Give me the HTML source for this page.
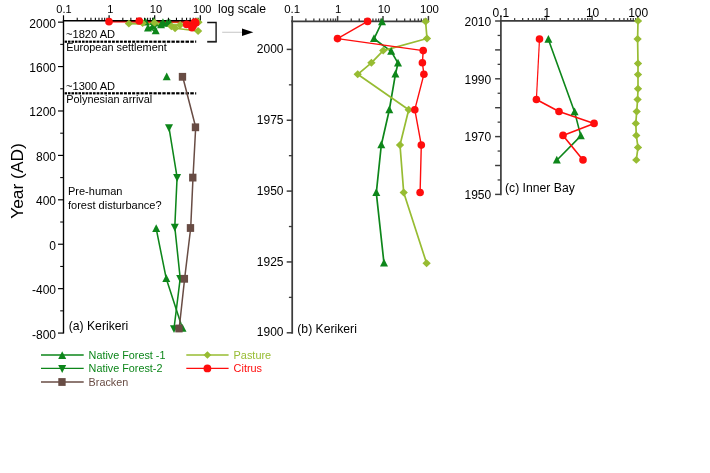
<!DOCTYPE html>
<html><head><meta charset="utf-8"><title>Figure</title>
<style>
html,body{margin:0;padding:0;background:#fff;}
svg{display:block;font-family:"Liberation Sans",sans-serif;}
</style></head><body>
<svg width="710" height="473" viewBox="0 0 710 473">
<rect width="710" height="473" fill="#fff"/>
<line x1="63.50" y1="20.70" x2="63.50" y2="15.30" stroke="#000" stroke-width="1.19" />
<line x1="77.23" y1="20.70" x2="77.23" y2="17.70" stroke="#000" stroke-width="1.0499999999999998" />
<line x1="85.26" y1="20.70" x2="85.26" y2="17.70" stroke="#000" stroke-width="1.0499999999999998" />
<line x1="90.95" y1="20.70" x2="90.95" y2="17.70" stroke="#000" stroke-width="1.0499999999999998" />
<line x1="95.37" y1="20.70" x2="95.37" y2="17.70" stroke="#000" stroke-width="1.0499999999999998" />
<line x1="98.98" y1="20.70" x2="98.98" y2="17.70" stroke="#000" stroke-width="1.0499999999999998" />
<line x1="102.04" y1="20.70" x2="102.04" y2="17.70" stroke="#000" stroke-width="1.0499999999999998" />
<line x1="104.68" y1="20.70" x2="104.68" y2="17.70" stroke="#000" stroke-width="1.0499999999999998" />
<line x1="107.01" y1="20.70" x2="107.01" y2="17.70" stroke="#000" stroke-width="1.0499999999999998" />
<line x1="109.10" y1="20.70" x2="109.10" y2="15.30" stroke="#000" stroke-width="1.19" />
<line x1="122.83" y1="20.70" x2="122.83" y2="17.70" stroke="#000" stroke-width="1.0499999999999998" />
<line x1="130.86" y1="20.70" x2="130.86" y2="17.70" stroke="#000" stroke-width="1.0499999999999998" />
<line x1="136.55" y1="20.70" x2="136.55" y2="17.70" stroke="#000" stroke-width="1.0499999999999998" />
<line x1="140.97" y1="20.70" x2="140.97" y2="17.70" stroke="#000" stroke-width="1.0499999999999998" />
<line x1="144.58" y1="20.70" x2="144.58" y2="17.70" stroke="#000" stroke-width="1.0499999999999998" />
<line x1="147.64" y1="20.70" x2="147.64" y2="17.70" stroke="#000" stroke-width="1.0499999999999998" />
<line x1="150.28" y1="20.70" x2="150.28" y2="17.70" stroke="#000" stroke-width="1.0499999999999998" />
<line x1="152.61" y1="20.70" x2="152.61" y2="17.70" stroke="#000" stroke-width="1.0499999999999998" />
<line x1="154.70" y1="20.70" x2="154.70" y2="15.30" stroke="#000" stroke-width="1.19" />
<line x1="168.43" y1="20.70" x2="168.43" y2="17.70" stroke="#000" stroke-width="1.0499999999999998" />
<line x1="176.46" y1="20.70" x2="176.46" y2="17.70" stroke="#000" stroke-width="1.0499999999999998" />
<line x1="182.15" y1="20.70" x2="182.15" y2="17.70" stroke="#000" stroke-width="1.0499999999999998" />
<line x1="186.57" y1="20.70" x2="186.57" y2="17.70" stroke="#000" stroke-width="1.0499999999999998" />
<line x1="190.18" y1="20.70" x2="190.18" y2="17.70" stroke="#000" stroke-width="1.0499999999999998" />
<line x1="193.24" y1="20.70" x2="193.24" y2="17.70" stroke="#000" stroke-width="1.0499999999999998" />
<line x1="195.88" y1="20.70" x2="195.88" y2="17.70" stroke="#000" stroke-width="1.0499999999999998" />
<line x1="198.21" y1="20.70" x2="198.21" y2="17.70" stroke="#000" stroke-width="1.0499999999999998" />
<line x1="200.30" y1="20.70" x2="200.30" y2="15.30" stroke="#000" stroke-width="1.19" />
<text x="64.00" y="13.10" font-size="11" text-anchor="middle" fill="#000" >0.1</text>
<text x="110.30" y="13.10" font-size="11" text-anchor="middle" fill="#000" >1</text>
<text x="155.90" y="13.10" font-size="11" text-anchor="middle" fill="#000" >10</text>
<text x="202.30" y="13.10" font-size="11" text-anchor="middle" fill="#000" >100</text>
<line x1="63.50" y1="20.01" x2="63.50" y2="333.59" stroke="#000" stroke-width="1.38" />
<line x1="58.00" y1="22.15" x2="63.50" y2="22.15" stroke="#000" stroke-width="1.1729999999999998" />
<text x="56.00" y="27.60" font-size="12" text-anchor="end" fill="#000" >2000</text>
<line x1="58.00" y1="66.57" x2="63.50" y2="66.57" stroke="#000" stroke-width="1.1729999999999998" />
<text x="56.00" y="72.02" font-size="12" text-anchor="end" fill="#000" >1600</text>
<line x1="58.00" y1="110.98" x2="63.50" y2="110.98" stroke="#000" stroke-width="1.1729999999999998" />
<text x="56.00" y="116.43" font-size="12" text-anchor="end" fill="#000" >1200</text>
<line x1="58.00" y1="155.40" x2="63.50" y2="155.40" stroke="#000" stroke-width="1.1729999999999998" />
<text x="56.00" y="160.85" font-size="12" text-anchor="end" fill="#000" >800</text>
<line x1="58.00" y1="199.81" x2="63.50" y2="199.81" stroke="#000" stroke-width="1.1729999999999998" />
<text x="56.00" y="205.26" font-size="12" text-anchor="end" fill="#000" >400</text>
<line x1="58.00" y1="244.23" x2="63.50" y2="244.23" stroke="#000" stroke-width="1.1729999999999998" />
<text x="56.00" y="249.68" font-size="12" text-anchor="end" fill="#000" >0</text>
<line x1="58.00" y1="288.65" x2="63.50" y2="288.65" stroke="#000" stroke-width="1.1729999999999998" />
<text x="56.00" y="294.10" font-size="12" text-anchor="end" fill="#000" >-400</text>
<line x1="58.00" y1="333.06" x2="63.50" y2="333.06" stroke="#000" stroke-width="1.1729999999999998" />
<text x="56.00" y="338.51" font-size="12" text-anchor="end" fill="#000" >-800</text>
<line x1="60.20" y1="44.36" x2="63.50" y2="44.36" stroke="#000" stroke-width="1.035" />
<line x1="60.20" y1="88.77" x2="63.50" y2="88.77" stroke="#000" stroke-width="1.035" />
<line x1="60.20" y1="133.19" x2="63.50" y2="133.19" stroke="#000" stroke-width="1.035" />
<line x1="60.20" y1="177.61" x2="63.50" y2="177.61" stroke="#000" stroke-width="1.035" />
<line x1="60.20" y1="222.02" x2="63.50" y2="222.02" stroke="#000" stroke-width="1.035" />
<line x1="60.20" y1="266.44" x2="63.50" y2="266.44" stroke="#000" stroke-width="1.035" />
<line x1="60.20" y1="310.85" x2="63.50" y2="310.85" stroke="#000" stroke-width="1.035" />
<text x="218.00" y="13.10" font-size="12.2" text-anchor="start" fill="#000" >log scale</text>
<line x1="64.60" y1="41.70" x2="67.08" y2="41.70" stroke="#000" stroke-width="2.2" />
<line x1="68.00" y1="41.70" x2="70.51" y2="41.70" stroke="#000" stroke-width="2.2" />
<line x1="71.44" y1="41.70" x2="73.98" y2="41.70" stroke="#000" stroke-width="2.2" />
<line x1="74.92" y1="41.70" x2="77.49" y2="41.70" stroke="#000" stroke-width="2.2" />
<line x1="78.44" y1="41.70" x2="81.03" y2="41.70" stroke="#000" stroke-width="2.2" />
<line x1="81.99" y1="41.70" x2="84.62" y2="41.70" stroke="#000" stroke-width="2.2" />
<line x1="85.59" y1="41.70" x2="88.25" y2="41.70" stroke="#000" stroke-width="2.2" />
<line x1="89.23" y1="41.70" x2="91.92" y2="41.70" stroke="#000" stroke-width="2.2" />
<line x1="92.92" y1="41.70" x2="95.63" y2="41.70" stroke="#000" stroke-width="2.2" />
<line x1="96.64" y1="41.70" x2="99.39" y2="41.70" stroke="#000" stroke-width="2.2" />
<line x1="100.41" y1="41.70" x2="103.19" y2="41.70" stroke="#000" stroke-width="2.2" />
<line x1="104.22" y1="41.70" x2="107.03" y2="41.70" stroke="#000" stroke-width="2.2" />
<line x1="108.07" y1="41.70" x2="110.92" y2="41.70" stroke="#000" stroke-width="2.2" />
<line x1="111.97" y1="41.70" x2="114.85" y2="41.70" stroke="#000" stroke-width="2.2" />
<line x1="115.91" y1="41.70" x2="118.82" y2="41.70" stroke="#000" stroke-width="2.2" />
<line x1="119.90" y1="41.70" x2="122.84" y2="41.70" stroke="#000" stroke-width="2.2" />
<line x1="123.93" y1="41.70" x2="126.91" y2="41.70" stroke="#000" stroke-width="2.2" />
<line x1="128.01" y1="41.70" x2="131.02" y2="41.70" stroke="#000" stroke-width="2.2" />
<line x1="132.14" y1="41.70" x2="135.18" y2="41.70" stroke="#000" stroke-width="2.2" />
<line x1="136.31" y1="41.70" x2="139.39" y2="41.70" stroke="#000" stroke-width="2.2" />
<line x1="140.53" y1="41.70" x2="143.65" y2="41.70" stroke="#000" stroke-width="2.2" />
<line x1="144.80" y1="41.70" x2="147.95" y2="41.70" stroke="#000" stroke-width="2.2" />
<line x1="149.12" y1="41.70" x2="152.31" y2="41.70" stroke="#000" stroke-width="2.2" />
<line x1="153.49" y1="41.70" x2="156.71" y2="41.70" stroke="#000" stroke-width="2.2" />
<line x1="157.90" y1="41.70" x2="161.17" y2="41.70" stroke="#000" stroke-width="2.2" />
<line x1="162.37" y1="41.70" x2="165.67" y2="41.70" stroke="#000" stroke-width="2.2" />
<line x1="166.89" y1="41.70" x2="170.23" y2="41.70" stroke="#000" stroke-width="2.2" />
<line x1="171.46" y1="41.70" x2="174.84" y2="41.70" stroke="#000" stroke-width="2.2" />
<line x1="176.09" y1="41.70" x2="179.50" y2="41.70" stroke="#000" stroke-width="2.2" />
<line x1="180.76" y1="41.70" x2="184.22" y2="41.70" stroke="#000" stroke-width="2.2" />
<line x1="185.49" y1="41.70" x2="188.99" y2="41.70" stroke="#000" stroke-width="2.2" />
<line x1="190.28" y1="41.70" x2="193.81" y2="41.70" stroke="#000" stroke-width="2.2" />
<line x1="195.12" y1="41.70" x2="196.20" y2="41.70" stroke="#000" stroke-width="2.2" />
<line x1="64.60" y1="93.30" x2="67.08" y2="93.30" stroke="#000" stroke-width="2.2" />
<line x1="68.00" y1="93.30" x2="70.51" y2="93.30" stroke="#000" stroke-width="2.2" />
<line x1="71.44" y1="93.30" x2="73.98" y2="93.30" stroke="#000" stroke-width="2.2" />
<line x1="74.92" y1="93.30" x2="77.49" y2="93.30" stroke="#000" stroke-width="2.2" />
<line x1="78.44" y1="93.30" x2="81.03" y2="93.30" stroke="#000" stroke-width="2.2" />
<line x1="81.99" y1="93.30" x2="84.62" y2="93.30" stroke="#000" stroke-width="2.2" />
<line x1="85.59" y1="93.30" x2="88.25" y2="93.30" stroke="#000" stroke-width="2.2" />
<line x1="89.23" y1="93.30" x2="91.92" y2="93.30" stroke="#000" stroke-width="2.2" />
<line x1="92.92" y1="93.30" x2="95.63" y2="93.30" stroke="#000" stroke-width="2.2" />
<line x1="96.64" y1="93.30" x2="99.39" y2="93.30" stroke="#000" stroke-width="2.2" />
<line x1="100.41" y1="93.30" x2="103.19" y2="93.30" stroke="#000" stroke-width="2.2" />
<line x1="104.22" y1="93.30" x2="107.03" y2="93.30" stroke="#000" stroke-width="2.2" />
<line x1="108.07" y1="93.30" x2="110.92" y2="93.30" stroke="#000" stroke-width="2.2" />
<line x1="111.97" y1="93.30" x2="114.85" y2="93.30" stroke="#000" stroke-width="2.2" />
<line x1="115.91" y1="93.30" x2="118.82" y2="93.30" stroke="#000" stroke-width="2.2" />
<line x1="119.90" y1="93.30" x2="122.84" y2="93.30" stroke="#000" stroke-width="2.2" />
<line x1="123.93" y1="93.30" x2="126.91" y2="93.30" stroke="#000" stroke-width="2.2" />
<line x1="128.01" y1="93.30" x2="131.02" y2="93.30" stroke="#000" stroke-width="2.2" />
<line x1="132.14" y1="93.30" x2="135.18" y2="93.30" stroke="#000" stroke-width="2.2" />
<line x1="136.31" y1="93.30" x2="139.39" y2="93.30" stroke="#000" stroke-width="2.2" />
<line x1="140.53" y1="93.30" x2="143.65" y2="93.30" stroke="#000" stroke-width="2.2" />
<line x1="144.80" y1="93.30" x2="147.95" y2="93.30" stroke="#000" stroke-width="2.2" />
<line x1="149.12" y1="93.30" x2="152.31" y2="93.30" stroke="#000" stroke-width="2.2" />
<line x1="153.49" y1="93.30" x2="156.71" y2="93.30" stroke="#000" stroke-width="2.2" />
<line x1="157.90" y1="93.30" x2="161.17" y2="93.30" stroke="#000" stroke-width="2.2" />
<line x1="162.37" y1="93.30" x2="165.67" y2="93.30" stroke="#000" stroke-width="2.2" />
<line x1="166.89" y1="93.30" x2="170.23" y2="93.30" stroke="#000" stroke-width="2.2" />
<line x1="171.46" y1="93.30" x2="174.84" y2="93.30" stroke="#000" stroke-width="2.2" />
<line x1="176.09" y1="93.30" x2="179.50" y2="93.30" stroke="#000" stroke-width="2.2" />
<line x1="180.76" y1="93.30" x2="184.22" y2="93.30" stroke="#000" stroke-width="2.2" />
<line x1="185.49" y1="93.30" x2="188.99" y2="93.30" stroke="#000" stroke-width="2.2" />
<line x1="190.28" y1="93.30" x2="193.81" y2="93.30" stroke="#000" stroke-width="2.2" />
<line x1="195.12" y1="93.30" x2="196.20" y2="93.30" stroke="#000" stroke-width="2.2" />
<text x="66.00" y="37.80" font-size="11.1" text-anchor="start" fill="#000" >~1820 AD</text>
<text x="66.30" y="50.80" font-size="10.9" text-anchor="start" fill="#000" >European settlement</text>
<text x="66.00" y="89.60" font-size="11.1" text-anchor="start" fill="#000" >~1300 AD</text>
<text x="66.30" y="102.80" font-size="10.9" text-anchor="start" fill="#000" >Polynesian arrival</text>
<text x="68.00" y="195.30" font-size="11" text-anchor="start" fill="#000" >Pre-human</text>
<text x="68.00" y="208.50" font-size="11" text-anchor="start" fill="#000" >forest disturbance?</text>
<text x="68.70" y="330.30" font-size="12.2" text-anchor="start" fill="#000" >(a) Kerikeri</text>
<text transform="translate(23.3,181) rotate(-90)" font-size="17.4" text-anchor="middle">Year (AD)</text>
<polyline fill="none" stroke="#111" stroke-width="1.35" points="207.2,22.5 216.1,22.5 216.1,41.8"/>
<line x1="207.20" y1="41.75" x2="216.80" y2="41.75" stroke="#222" stroke-width="1.8" />
<line x1="222.20" y1="32.25" x2="243.00" y2="32.25" stroke="#888" stroke-width="0.5" />
<polygon fill="#000" points="242,28.5 253.3,32.2 242,35.9"/>
<polyline fill="none" stroke="#0d861a" stroke-width="1.55" stroke-linejoin="round" points="156.20,228.70 166.30,278.80 182.50,328.50"/>
<polyline fill="none" stroke="#0d861a" stroke-width="1.55" stroke-linejoin="round" points="169.00,127.60 177.10,177.30 174.80,227.00 180.20,278.40 174.00,328.50"/>
<polyline fill="none" stroke="#684c44" stroke-width="1.5" stroke-linejoin="round" points="182.70,76.80 195.70,127.30 193.00,177.60 190.70,228.00 184.60,278.80 179.20,328.50"/>
<polygon fill="#0d861a" points="156.20,224.18 152.20,231.98 160.20,231.98"/>
<polygon fill="#0d861a" points="166.30,274.28 162.30,282.08 170.30,282.08"/>
<polygon fill="#0d861a" points="182.50,323.98 178.50,331.78 186.50,331.78"/>
<polygon fill="#0d861a" points="166.70,72.38 162.70,80.18 170.70,80.18"/>
<polygon fill="#0d861a" points="169.00,132.12 165.00,124.32 173.00,124.32"/>
<polygon fill="#0d861a" points="177.10,181.82 173.10,174.02 181.10,174.02"/>
<polygon fill="#0d861a" points="174.80,231.52 170.80,223.72 178.80,223.72"/>
<polygon fill="#0d861a" points="180.20,282.92 176.20,275.12 184.20,275.12"/>
<polygon fill="#0d861a" points="174.00,333.02 170.00,325.22 178.00,325.22"/>
<rect x="178.80" y="72.90" width="7.35" height="7.8" fill="#684c44"/>
<rect x="191.80" y="123.40" width="7.35" height="7.8" fill="#684c44"/>
<rect x="189.10" y="173.70" width="7.35" height="7.8" fill="#684c44"/>
<rect x="186.80" y="224.10" width="7.35" height="7.8" fill="#684c44"/>
<rect x="180.70" y="274.90" width="7.35" height="7.8" fill="#684c44"/>
<rect x="175.30" y="324.60" width="7.35" height="7.8" fill="#684c44"/>
<polyline fill="none" stroke="#0d861a" stroke-width="1.65" stroke-linejoin="round" points="153.70,21.53 145.66,22.18 162.94,22.68 169.77,23.14 167.15,23.58 161.03,24.97 152.99,26.35 147.97,28.22 155.70,30.98"/>
<polyline fill="none" stroke="#97bc32" stroke-width="1.65" stroke-linejoin="round" points="197.09,21.51 198.49,22.17 154.50,22.65 142.65,23.13 128.89,23.58 180.11,24.96 171.37,26.35 175.09,28.21 198.09,30.98"/>
<polyline fill="none" stroke="#ff0d0d" stroke-width="1.55" stroke-linejoin="round" points="139.23,20.95 109.00,21.63 195.08,22.10 194.27,22.58 195.78,23.03 186.64,24.41 193.17,25.80 191.96,27.66"/>
<line x1="62.90" y1="20.70" x2="200.90" y2="20.70" stroke="#000" stroke-width="1.45" />
<polygon fill="#0d861a" points="153.70,17.00 149.70,24.80 157.70,24.80"/>
<polygon fill="#0d861a" points="145.66,17.66 141.66,25.46 149.66,25.46"/>
<polygon fill="#0d861a" points="162.94,18.15 158.94,25.95 166.94,25.95"/>
<polygon fill="#0d861a" points="169.77,18.62 165.77,26.42 173.77,26.42"/>
<polygon fill="#0d861a" points="167.15,19.05 163.15,26.85 171.15,26.85"/>
<polygon fill="#0d861a" points="161.03,20.45 157.03,28.25 165.03,28.25"/>
<polygon fill="#0d861a" points="152.99,21.82 148.99,29.62 156.99,29.62"/>
<polygon fill="#0d861a" points="147.97,23.69 143.97,31.49 151.97,31.49"/>
<polygon fill="#0d861a" points="155.70,26.46 151.70,34.26 159.70,34.26"/>
<polygon fill="#97bc32" points="197.09,17.56 201.24,21.51 197.09,25.45 192.94,21.51"/>
<polygon fill="#97bc32" points="198.49,18.23 202.64,22.17 198.49,26.12 194.34,22.17"/>
<polygon fill="#97bc32" points="154.50,18.70 158.65,22.65 154.50,26.59 150.35,22.65"/>
<polygon fill="#97bc32" points="142.65,19.18 146.80,23.13 142.65,27.07 138.50,23.13"/>
<polygon fill="#97bc32" points="128.89,19.63 133.04,23.58 128.89,27.52 124.74,23.58"/>
<polygon fill="#97bc32" points="180.11,21.02 184.26,24.96 180.11,28.91 175.96,24.96"/>
<polygon fill="#97bc32" points="171.37,22.40 175.52,26.35 171.37,30.29 167.22,26.35"/>
<polygon fill="#97bc32" points="175.09,24.26 179.24,28.21 175.09,32.15 170.94,28.21"/>
<polygon fill="#97bc32" points="198.09,27.04 202.24,30.98 198.09,34.92 193.94,30.98"/>
<circle cx="139.23" cy="20.95" r="3.8" fill="#ff0d0d"/>
<circle cx="109.00" cy="21.63" r="3.8" fill="#ff0d0d"/>
<circle cx="195.08" cy="22.10" r="3.8" fill="#ff0d0d"/>
<circle cx="194.27" cy="22.58" r="3.8" fill="#ff0d0d"/>
<circle cx="195.78" cy="23.03" r="3.8" fill="#ff0d0d"/>
<circle cx="186.64" cy="24.41" r="3.8" fill="#ff0d0d"/>
<circle cx="193.17" cy="25.80" r="3.8" fill="#ff0d0d"/>
<circle cx="191.96" cy="27.66" r="3.8" fill="#ff0d0d"/>
<line x1="291.32" y1="21.25" x2="429.00" y2="21.25" stroke="#3c3c3c" stroke-width="1.75" />
<line x1="292.20" y1="21.25" x2="292.20" y2="15.95" stroke="#3c3c3c" stroke-width="1.4875" />
<line x1="305.87" y1="21.25" x2="305.87" y2="18.45" stroke="#3c3c3c" stroke-width="1.3125" />
<line x1="313.86" y1="21.25" x2="313.86" y2="18.45" stroke="#3c3c3c" stroke-width="1.3125" />
<line x1="319.53" y1="21.25" x2="319.53" y2="18.45" stroke="#3c3c3c" stroke-width="1.3125" />
<line x1="323.93" y1="21.25" x2="323.93" y2="18.45" stroke="#3c3c3c" stroke-width="1.3125" />
<line x1="327.53" y1="21.25" x2="327.53" y2="18.45" stroke="#3c3c3c" stroke-width="1.3125" />
<line x1="330.57" y1="21.25" x2="330.57" y2="18.45" stroke="#3c3c3c" stroke-width="1.3125" />
<line x1="333.20" y1="21.25" x2="333.20" y2="18.45" stroke="#3c3c3c" stroke-width="1.3125" />
<line x1="335.52" y1="21.25" x2="335.52" y2="18.45" stroke="#3c3c3c" stroke-width="1.3125" />
<line x1="337.60" y1="21.25" x2="337.60" y2="15.95" stroke="#3c3c3c" stroke-width="1.4875" />
<line x1="351.27" y1="21.25" x2="351.27" y2="18.45" stroke="#3c3c3c" stroke-width="1.3125" />
<line x1="359.26" y1="21.25" x2="359.26" y2="18.45" stroke="#3c3c3c" stroke-width="1.3125" />
<line x1="364.93" y1="21.25" x2="364.93" y2="18.45" stroke="#3c3c3c" stroke-width="1.3125" />
<line x1="369.33" y1="21.25" x2="369.33" y2="18.45" stroke="#3c3c3c" stroke-width="1.3125" />
<line x1="372.93" y1="21.25" x2="372.93" y2="18.45" stroke="#3c3c3c" stroke-width="1.3125" />
<line x1="375.97" y1="21.25" x2="375.97" y2="18.45" stroke="#3c3c3c" stroke-width="1.3125" />
<line x1="378.60" y1="21.25" x2="378.60" y2="18.45" stroke="#3c3c3c" stroke-width="1.3125" />
<line x1="380.92" y1="21.25" x2="380.92" y2="18.45" stroke="#3c3c3c" stroke-width="1.3125" />
<line x1="383.00" y1="21.25" x2="383.00" y2="15.95" stroke="#3c3c3c" stroke-width="1.4875" />
<line x1="396.67" y1="21.25" x2="396.67" y2="18.45" stroke="#3c3c3c" stroke-width="1.3125" />
<line x1="404.66" y1="21.25" x2="404.66" y2="18.45" stroke="#3c3c3c" stroke-width="1.3125" />
<line x1="410.33" y1="21.25" x2="410.33" y2="18.45" stroke="#3c3c3c" stroke-width="1.3125" />
<line x1="414.73" y1="21.25" x2="414.73" y2="18.45" stroke="#3c3c3c" stroke-width="1.3125" />
<line x1="418.33" y1="21.25" x2="418.33" y2="18.45" stroke="#3c3c3c" stroke-width="1.3125" />
<line x1="421.37" y1="21.25" x2="421.37" y2="18.45" stroke="#3c3c3c" stroke-width="1.3125" />
<line x1="424.00" y1="21.25" x2="424.00" y2="18.45" stroke="#3c3c3c" stroke-width="1.3125" />
<line x1="426.32" y1="21.25" x2="426.32" y2="18.45" stroke="#3c3c3c" stroke-width="1.3125" />
<line x1="428.40" y1="21.25" x2="428.40" y2="15.95" stroke="#3c3c3c" stroke-width="1.4875" />
<text x="292.20" y="13.10" font-size="11.4" text-anchor="middle" fill="#000" >0.1</text>
<text x="338.10" y="13.10" font-size="11.4" text-anchor="middle" fill="#000" >1</text>
<text x="384.00" y="13.10" font-size="11.4" text-anchor="middle" fill="#000" >10</text>
<text x="429.40" y="13.10" font-size="11.4" text-anchor="middle" fill="#000" >100</text>
<line x1="292.20" y1="20.38" x2="292.20" y2="333.68" stroke="#3c3c3c" stroke-width="1.75" />
<line x1="286.70" y1="49.40" x2="292.20" y2="49.40" stroke="#3c3c3c" stroke-width="1.4875" />
<text x="283.50" y="53.00" font-size="12" text-anchor="end" fill="#000" >2000</text>
<line x1="286.70" y1="120.25" x2="292.20" y2="120.25" stroke="#3c3c3c" stroke-width="1.4875" />
<text x="283.50" y="123.85" font-size="12" text-anchor="end" fill="#000" >1975</text>
<line x1="286.70" y1="191.10" x2="292.20" y2="191.10" stroke="#3c3c3c" stroke-width="1.4875" />
<text x="283.50" y="194.70" font-size="12" text-anchor="end" fill="#000" >1950</text>
<line x1="286.70" y1="261.95" x2="292.20" y2="261.95" stroke="#3c3c3c" stroke-width="1.4875" />
<text x="283.50" y="265.55" font-size="12" text-anchor="end" fill="#000" >1925</text>
<line x1="286.70" y1="332.80" x2="292.20" y2="332.80" stroke="#3c3c3c" stroke-width="1.4875" />
<text x="283.50" y="336.40" font-size="12" text-anchor="end" fill="#000" >1900</text>
<line x1="288.90" y1="84.83" x2="292.20" y2="84.83" stroke="#3c3c3c" stroke-width="1.3125" />
<line x1="288.90" y1="155.68" x2="292.20" y2="155.68" stroke="#3c3c3c" stroke-width="1.3125" />
<line x1="288.90" y1="226.53" x2="292.20" y2="226.53" stroke="#3c3c3c" stroke-width="1.3125" />
<line x1="288.90" y1="297.38" x2="292.20" y2="297.38" stroke="#3c3c3c" stroke-width="1.3125" />
<text x="297.30" y="332.70" font-size="12.2" text-anchor="start" fill="#000" >(b) Kerikeri</text>
<polyline fill="none" stroke="#0d861a" stroke-width="1.7" stroke-linejoin="round" points="382.00,22.00 374.00,38.80 391.20,51.40 398.00,63.20 395.40,74.30 389.30,110.00 381.30,145.00 376.30,192.80 384.00,263.30"/>
<polyline fill="none" stroke="#97bc32" stroke-width="1.7" stroke-linejoin="round" points="425.60,21.50 427.00,38.50 383.20,50.60 371.40,62.80 357.70,74.30 408.70,109.70 400.00,145.00 403.70,192.50 426.60,263.30"/>
<polyline fill="none" stroke="#ff0d0d" stroke-width="1.4" stroke-linejoin="round" points="367.60,21.40 337.50,38.60 423.20,50.60 422.40,62.80 423.90,74.30 414.80,109.70 421.30,145.10 420.10,192.50"/>
<polygon fill="#0d861a" points="382.00,17.48 378.00,25.28 386.00,25.28"/>
<polygon fill="#0d861a" points="374.00,34.28 370.00,42.08 378.00,42.08"/>
<polygon fill="#0d861a" points="391.20,46.88 387.20,54.68 395.20,54.68"/>
<polygon fill="#0d861a" points="398.00,58.68 394.00,66.48 402.00,66.48"/>
<polygon fill="#0d861a" points="395.40,69.78 391.40,77.58 399.40,77.58"/>
<polygon fill="#0d861a" points="389.30,105.48 385.30,113.28 393.30,113.28"/>
<polygon fill="#0d861a" points="381.30,140.48 377.30,148.28 385.30,148.28"/>
<polygon fill="#0d861a" points="376.30,188.28 372.30,196.08 380.30,196.08"/>
<polygon fill="#0d861a" points="384.00,258.78 380.00,266.58 388.00,266.58"/>
<polygon fill="#97bc32" points="425.60,17.56 429.75,21.50 425.60,25.44 421.45,21.50"/>
<polygon fill="#97bc32" points="427.00,34.56 431.15,38.50 427.00,42.44 422.85,38.50"/>
<polygon fill="#97bc32" points="383.20,46.66 387.35,50.60 383.20,54.54 379.05,50.60"/>
<polygon fill="#97bc32" points="371.40,58.86 375.55,62.80 371.40,66.74 367.25,62.80"/>
<polygon fill="#97bc32" points="357.70,70.36 361.85,74.30 357.70,78.24 353.55,74.30"/>
<polygon fill="#97bc32" points="408.70,105.76 412.85,109.70 408.70,113.64 404.55,109.70"/>
<polygon fill="#97bc32" points="400.00,141.06 404.15,145.00 400.00,148.94 395.85,145.00"/>
<polygon fill="#97bc32" points="403.70,188.56 407.85,192.50 403.70,196.44 399.55,192.50"/>
<polygon fill="#97bc32" points="426.60,259.36 430.75,263.30 426.60,267.24 422.45,263.30"/>
<circle cx="367.60" cy="21.40" r="3.8" fill="#ff0d0d"/>
<circle cx="337.50" cy="38.60" r="3.8" fill="#ff0d0d"/>
<circle cx="423.20" cy="50.60" r="3.8" fill="#ff0d0d"/>
<circle cx="422.40" cy="62.80" r="3.8" fill="#ff0d0d"/>
<circle cx="423.90" cy="74.30" r="3.8" fill="#ff0d0d"/>
<circle cx="414.80" cy="109.70" r="3.8" fill="#ff0d0d"/>
<circle cx="421.30" cy="145.10" r="3.8" fill="#ff0d0d"/>
<circle cx="420.10" cy="192.50" r="3.8" fill="#ff0d0d"/>
<line x1="500.05" y1="20.90" x2="638.30" y2="20.90" stroke="#3c3c3c" stroke-width="1.7" />
<line x1="500.90" y1="20.90" x2="500.90" y2="15.60" stroke="#3c3c3c" stroke-width="1.4449999999999998" />
<line x1="514.63" y1="20.90" x2="514.63" y2="18.10" stroke="#3c3c3c" stroke-width="1.275" />
<line x1="522.66" y1="20.90" x2="522.66" y2="18.10" stroke="#3c3c3c" stroke-width="1.275" />
<line x1="528.35" y1="20.90" x2="528.35" y2="18.10" stroke="#3c3c3c" stroke-width="1.275" />
<line x1="532.77" y1="20.90" x2="532.77" y2="18.10" stroke="#3c3c3c" stroke-width="1.275" />
<line x1="536.38" y1="20.90" x2="536.38" y2="18.10" stroke="#3c3c3c" stroke-width="1.275" />
<line x1="539.44" y1="20.90" x2="539.44" y2="18.10" stroke="#3c3c3c" stroke-width="1.275" />
<line x1="542.08" y1="20.90" x2="542.08" y2="18.10" stroke="#3c3c3c" stroke-width="1.275" />
<line x1="544.41" y1="20.90" x2="544.41" y2="18.10" stroke="#3c3c3c" stroke-width="1.275" />
<line x1="546.50" y1="20.90" x2="546.50" y2="15.60" stroke="#3c3c3c" stroke-width="1.4449999999999998" />
<line x1="560.23" y1="20.90" x2="560.23" y2="18.10" stroke="#3c3c3c" stroke-width="1.275" />
<line x1="568.26" y1="20.90" x2="568.26" y2="18.10" stroke="#3c3c3c" stroke-width="1.275" />
<line x1="573.95" y1="20.90" x2="573.95" y2="18.10" stroke="#3c3c3c" stroke-width="1.275" />
<line x1="578.37" y1="20.90" x2="578.37" y2="18.10" stroke="#3c3c3c" stroke-width="1.275" />
<line x1="581.98" y1="20.90" x2="581.98" y2="18.10" stroke="#3c3c3c" stroke-width="1.275" />
<line x1="585.04" y1="20.90" x2="585.04" y2="18.10" stroke="#3c3c3c" stroke-width="1.275" />
<line x1="587.68" y1="20.90" x2="587.68" y2="18.10" stroke="#3c3c3c" stroke-width="1.275" />
<line x1="590.01" y1="20.90" x2="590.01" y2="18.10" stroke="#3c3c3c" stroke-width="1.275" />
<line x1="592.10" y1="20.90" x2="592.10" y2="15.60" stroke="#3c3c3c" stroke-width="1.4449999999999998" />
<line x1="605.83" y1="20.90" x2="605.83" y2="18.10" stroke="#3c3c3c" stroke-width="1.275" />
<line x1="613.86" y1="20.90" x2="613.86" y2="18.10" stroke="#3c3c3c" stroke-width="1.275" />
<line x1="619.55" y1="20.90" x2="619.55" y2="18.10" stroke="#3c3c3c" stroke-width="1.275" />
<line x1="623.97" y1="20.90" x2="623.97" y2="18.10" stroke="#3c3c3c" stroke-width="1.275" />
<line x1="627.58" y1="20.90" x2="627.58" y2="18.10" stroke="#3c3c3c" stroke-width="1.275" />
<line x1="630.64" y1="20.90" x2="630.64" y2="18.10" stroke="#3c3c3c" stroke-width="1.275" />
<line x1="633.28" y1="20.90" x2="633.28" y2="18.10" stroke="#3c3c3c" stroke-width="1.275" />
<line x1="635.61" y1="20.90" x2="635.61" y2="18.10" stroke="#3c3c3c" stroke-width="1.275" />
<line x1="637.70" y1="20.90" x2="637.70" y2="15.60" stroke="#3c3c3c" stroke-width="1.4449999999999998" />
<text x="500.90" y="17.00" font-size="12" text-anchor="middle" fill="#000" >0.1</text>
<text x="546.80" y="17.00" font-size="12" text-anchor="middle" fill="#000" >1</text>
<text x="592.60" y="17.00" font-size="12" text-anchor="middle" fill="#000" >10</text>
<text x="638.20" y="17.00" font-size="12" text-anchor="middle" fill="#000" >100</text>
<line x1="500.90" y1="20.05" x2="500.90" y2="195.15" stroke="#3c3c3c" stroke-width="1.7" />
<line x1="495.10" y1="21.00" x2="500.90" y2="21.00" stroke="#3c3c3c" stroke-width="1.4449999999999998" />
<text x="491.20" y="25.80" font-size="12" text-anchor="end" fill="#000" >2010</text>
<line x1="495.10" y1="49.90" x2="500.90" y2="49.90" stroke="#3c3c3c" stroke-width="1.4449999999999998" />
<line x1="495.10" y1="78.80" x2="500.90" y2="78.80" stroke="#3c3c3c" stroke-width="1.4449999999999998" />
<text x="491.20" y="83.60" font-size="12" text-anchor="end" fill="#000" >1990</text>
<line x1="495.10" y1="107.70" x2="500.90" y2="107.70" stroke="#3c3c3c" stroke-width="1.4449999999999998" />
<line x1="495.10" y1="136.60" x2="500.90" y2="136.60" stroke="#3c3c3c" stroke-width="1.4449999999999998" />
<text x="491.20" y="141.40" font-size="12" text-anchor="end" fill="#000" >1970</text>
<line x1="495.10" y1="165.50" x2="500.90" y2="165.50" stroke="#3c3c3c" stroke-width="1.4449999999999998" />
<line x1="495.10" y1="194.40" x2="500.90" y2="194.40" stroke="#3c3c3c" stroke-width="1.4449999999999998" />
<text x="491.20" y="199.20" font-size="12" text-anchor="end" fill="#000" >1950</text>
<line x1="497.60" y1="35.45" x2="500.90" y2="35.45" stroke="#3c3c3c" stroke-width="1.275" />
<line x1="497.60" y1="64.35" x2="500.90" y2="64.35" stroke="#3c3c3c" stroke-width="1.275" />
<line x1="497.60" y1="93.25" x2="500.90" y2="93.25" stroke="#3c3c3c" stroke-width="1.275" />
<line x1="497.60" y1="122.15" x2="500.90" y2="122.15" stroke="#3c3c3c" stroke-width="1.275" />
<line x1="497.60" y1="151.05" x2="500.90" y2="151.05" stroke="#3c3c3c" stroke-width="1.275" />
<line x1="497.60" y1="179.95" x2="500.90" y2="179.95" stroke="#3c3c3c" stroke-width="1.275" />
<text x="505.00" y="192.00" font-size="12.2" text-anchor="start" fill="#000" >(c) Inner Bay</text>
<polyline fill="none" stroke="#0d861a" stroke-width="1.6" stroke-linejoin="round" points="548.40,39.50 574.60,111.90 580.80,135.90 556.80,160.30"/>
<polyline fill="none" stroke="#97bc32" stroke-width="1.7" stroke-linejoin="round" points="638.00,20.90 637.60,39.00 638.00,63.50 638.00,74.60 638.00,88.80 637.60,99.50 636.70,111.50 635.80,123.40 636.30,135.40 638.00,147.40 636.30,159.90"/>
<polyline fill="none" stroke="#ff0d0d" stroke-width="1.2" stroke-linejoin="round" points="539.50,39.10 536.40,99.50"/>
<polyline fill="none" stroke="#ff0d0d" stroke-width="1.6" stroke-linejoin="round" points="536.40,99.50 559.00,111.50 594.10,123.40 563.00,135.40 583.00,159.90"/>
<polygon fill="#0d861a" points="548.40,34.98 544.40,42.78 552.40,42.78"/>
<polygon fill="#0d861a" points="574.60,107.38 570.60,115.18 578.60,115.18"/>
<polygon fill="#0d861a" points="580.80,131.38 576.80,139.18 584.80,139.18"/>
<polygon fill="#0d861a" points="556.80,155.78 552.80,163.58 560.80,163.58"/>
<polygon fill="#97bc32" points="638.00,16.96 642.15,20.90 638.00,24.84 633.85,20.90"/>
<polygon fill="#97bc32" points="637.60,35.06 641.75,39.00 637.60,42.94 633.45,39.00"/>
<polygon fill="#97bc32" points="638.00,59.56 642.15,63.50 638.00,67.44 633.85,63.50"/>
<polygon fill="#97bc32" points="638.00,70.66 642.15,74.60 638.00,78.54 633.85,74.60"/>
<polygon fill="#97bc32" points="638.00,84.86 642.15,88.80 638.00,92.74 633.85,88.80"/>
<polygon fill="#97bc32" points="637.60,95.56 641.75,99.50 637.60,103.44 633.45,99.50"/>
<polygon fill="#97bc32" points="636.70,107.56 640.85,111.50 636.70,115.44 632.55,111.50"/>
<polygon fill="#97bc32" points="635.80,119.46 639.95,123.40 635.80,127.34 631.65,123.40"/>
<polygon fill="#97bc32" points="636.30,131.46 640.45,135.40 636.30,139.34 632.15,135.40"/>
<polygon fill="#97bc32" points="638.00,143.46 642.15,147.40 638.00,151.34 633.85,147.40"/>
<polygon fill="#97bc32" points="636.30,155.96 640.45,159.90 636.30,163.84 632.15,159.90"/>
<circle cx="539.50" cy="39.10" r="3.8" fill="#ff0d0d"/>
<circle cx="536.40" cy="99.50" r="3.8" fill="#ff0d0d"/>
<circle cx="559.00" cy="111.50" r="3.8" fill="#ff0d0d"/>
<circle cx="594.10" cy="123.40" r="3.8" fill="#ff0d0d"/>
<circle cx="563.00" cy="135.40" r="3.8" fill="#ff0d0d"/>
<circle cx="583.00" cy="159.90" r="3.8" fill="#ff0d0d"/>
<line x1="41.00" y1="355.00" x2="83.70" y2="355.00" stroke="#0d861a" stroke-width="1.3" />
<polygon fill="#0d861a" points="62.20,351.18 58.20,358.98 66.20,358.98"/>
<text x="88.60" y="358.80" font-size="10.8" text-anchor="start" fill="#0d861a" >Native Forest -1</text>
<line x1="41.00" y1="368.40" x2="83.70" y2="368.40" stroke="#0d861a" stroke-width="1.3" />
<polygon fill="#0d861a" points="62.20,372.92 58.20,365.12 66.20,365.12"/>
<text x="88.60" y="372.20" font-size="10.8" text-anchor="start" fill="#0d861a" >Native Forest-2</text>
<line x1="41.00" y1="382.00" x2="83.70" y2="382.00" stroke="#684c44" stroke-width="1.3" />
<rect x="58.30" y="378.10" width="7.35" height="7.8" fill="#684c44"/>
<text x="88.60" y="385.80" font-size="10.8" text-anchor="start" fill="#684c44" >Bracken</text>
<line x1="186.30" y1="355.00" x2="228.60" y2="355.00" stroke="#97bc32" stroke-width="1.3" />
<polygon fill="#97bc32" points="207.40,351.30 211.30,355.00 207.40,358.70 203.50,355.00"/>
<text x="233.60" y="358.80" font-size="10.9" text-anchor="start" fill="#97bc32" >Pasture</text>
<line x1="186.30" y1="368.40" x2="228.60" y2="368.40" stroke="#ff0d0d" stroke-width="1.3" />
<circle cx="207.40" cy="368.40" r="3.9" fill="#ff0d0d"/>
<text x="233.60" y="372.20" font-size="10.9" text-anchor="start" fill="#ff0d0d" >Citrus</text>
</svg>
</body></html>
